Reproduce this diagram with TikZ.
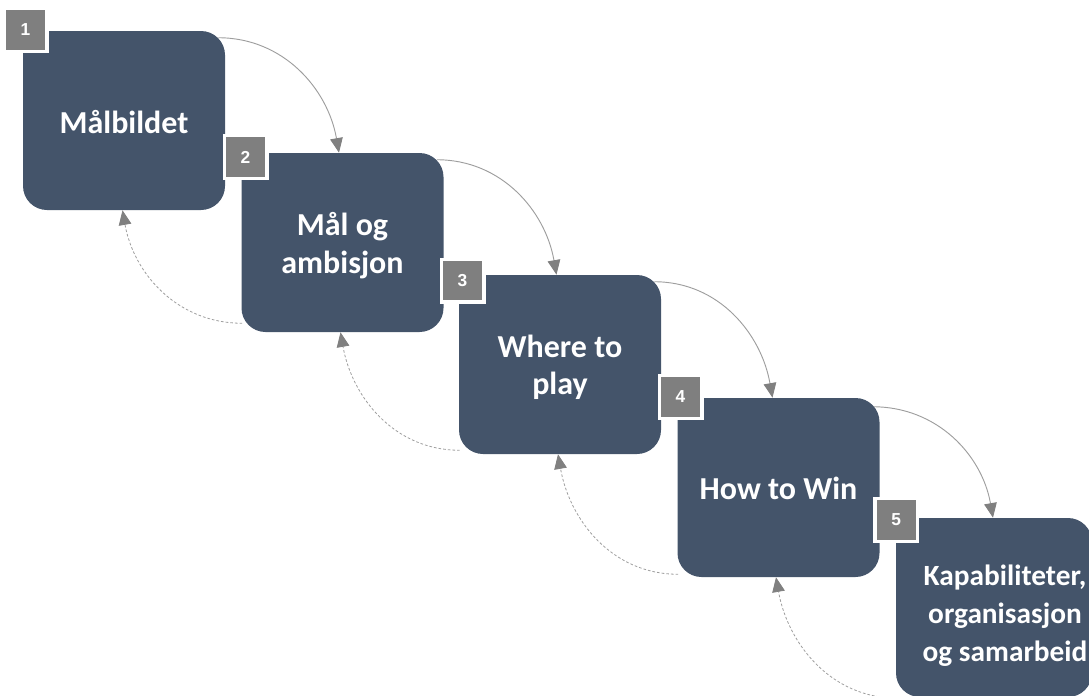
\documentclass[tikz,border=0pt]{standalone}
\usepackage{fontspec}
\setmainfont{Carlito}
\newfontfamily\badgefont{Liberation Sans}
\usetikzlibrary{arrows.meta,calc,backgrounds}
\definecolor{boxblue}{HTML}{44546A}
\definecolor{badgegray}{HTML}{7F7F7F}
\definecolor{linegray}{HTML}{9E9E9E}
\definecolor{headgray}{HTML}{808080}
\begin{document}
\begin{tikzpicture}[x=0.75pt,y=0.75pt,
  stepbox/.style={fill=boxblue, rounded corners=18pt, minimum width=151.5pt,
    minimum height=134.25pt, inner sep=0pt},
  boxtext/.style={inner sep=0pt, text=white, align=center,
    font=\bfseries\fontsize{24}{28}\selectfont},
  smalltext/.style={inner sep=0pt, text=white, align=center,
    font=\bfseries\fontsize{22}{28.5}\selectfont},
  badge/.style={fill=badgegray, draw=white, line width=2.6pt, minimum size=31.9pt,
    inner sep=0pt, text=white, font=\badgefont\bfseries\fontsize{13}{15}\selectfont},
  fwd/.style={draw=linegray, line width=0.7pt,
    -{Triangle[length=11pt,width=9.5pt,color=headgray]}},
  back/.style={draw=linegray, line width=0.6pt, dash pattern=on 2pt off 1.5pt,
    -{Triangle[length=11pt,width=9.5pt,color=headgray]}}]
\useasboundingbox (0,0) rectangle (1089,-696);
\begin{scope}
\clip (0,0) rectangle (1089,-696);
% step boxes
\node[stepbox] (b1) at (124,-120.5) {};
\node[stepbox] (b2) at (342.5,-242.5) {};
\node[stepbox] (b3) at (560,-364.5) {};
\node[stepbox] (b4) at (778.5,-487.5) {};
\node[stepbox, minimum width=147pt] (b5) at (994,-607.5) {};
% box texts
\node[boxtext] (t1) at ($(b1.center)+(0,-2)$) {Målbildet};
\node[boxtext] (t2) at ($(b2.center)+(0,-3)$) {Mål og\\ambisjon};
\node[boxtext] (t3) at ($(b3.center)+(0,-3)$) {Where to\\play};
\node[boxtext] (t4) at ($(b4.center)+(0,-1)$) {How to Win};
\node[smalltext] (t5) at (1005,-616) {Kapabiliteter,\\organisasjon\\og samarbeid};
% number badges
\node[badge] (n1) at (25.5,-30) {1};
\node[badge] (n2) at (245.5,-157) {2};
\node[badge] (n3) at (462.5,-280.5) {3};
\node[badge] (n4) at (680.5,-397) {4};
\node[badge] (n5) at (896.3,-520) {5};
% connectors
\begin{scope}[on background layer]
\draw[fwd] ($(b1.north east)+(-7,-7)$) to[out=0,in=100] ($(b2.north)+(-3.5,0)$);
\draw[fwd] ($(b2.north east)+(-7,-7)$) to[out=0,in=100] ($(b3.north)+(-3.5,0)$);
\draw[fwd] ($(b3.north east)+(-7,-7)$) to[out=0,in=100] ($(b4.north)+(-6,0)$);
\draw[fwd] ($(b4.north east)+(-7,-9)$) to[out=0,in=100] ($(b5.north)+(-1,0)$);
\draw[back] ($(b2.south west)+(1,9)$) to[out=180,in=-80] ($(b1.south)+(-1.5,0)$);
\draw[back] ($(b3.south west)+(1,4)$) to[out=180,in=-80] ($(b2.south)+(-2,0)$);
\draw[back] ($(b4.south west)+(1,3)$) to[out=180,in=-80] ($(b3.south)+(-2,0)$);
\draw[back] ($(b5.south west)+(2,-1)$) to[out=180,in=-80] ($(b4.south)+(-2.5,0)$);
\end{scope}
\end{scope}
\end{tikzpicture}
\end{document}
